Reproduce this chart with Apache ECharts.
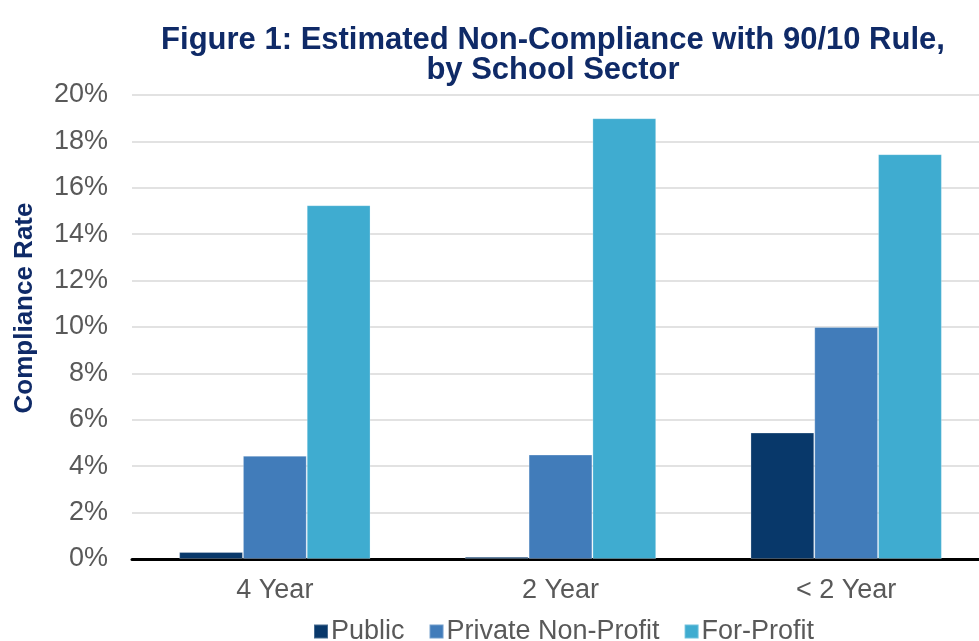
<!DOCTYPE html>
<html>
<head>
<meta charset="utf-8">
<script src="https://cdn.jsdelivr.net/npm/echarts@6/dist/echarts.min.js"></script>
<style>
  html, body { margin: 0; padding: 0; background: #fff; }
  #chart { width: 979px; height: 641px; }
</style>
</head>
<body>
<div id="chart"></div>
<script>
// sectors on the x axis
const categories = ['4 Year', '2 Year', '< 2 Year'];
// estimated non-compliance, percent
const publicVals = [0.3, 0.1, 5.45];
const privateVals = [4.45, 4.5, 10.0];
const forProfitVals = [15.25, 19.0, 17.45];
const yTicks = [0, 2, 4, 6, 8, 10, 12, 14, 16, 18, 20];

const font = 'Liberation Sans, Arial, sans-serif';
const navy = '#0f2a67';
const chart = echarts.init(document.getElementById('chart'));

function barSeries(name, data, color) {
    return {
        name: name,
        type: 'bar',
        data: data,
        barGap: '0%',
        barCategoryGap: '33%',
        itemStyle: { color: color, borderColor: 'rgba(255,255,255,0.25)', borderWidth: 1 },
        emphasis: { disabled: true }
    };
}

chart.setOption({
    animation: false,
    textStyle: { fontFamily: font },
    title: {
        text: 'Figure 1: Estimated Non-Compliance with 90/10 Rule,\nby School Sector',
        left: 548,
        top: 20,
        textAlign: 'center',
        textStyle: { fontFamily: font, fontSize: 31, fontWeight: 'bold', color: navy, lineHeight: 30 }
    },
    legend: {
        top: 613,
        left: 308,
        itemWidth: 14,
        itemHeight: 14,
        itemGap: 24,
        icon: 'rect',
        textStyle: { fontFamily: font, fontSize: 27, color: '#595959', padding: [0, 0, 0, -2] },
        data: ['Public', 'Private Non-Profit', 'For-Profit']
    },
    grid: { left: 132, right: -10, top: 95, bottom: 82, outerBoundsMode: 'none' },
    xAxis: {
        type: 'category',
        data: categories,
        axisLine: { lineStyle: { color: '#000', width: 3 } },
        axisTick: { show: false },
        axisLabel: { fontSize: 27, color: '#595959', margin: 18 }
    },
    yAxis: {
        type: 'value',
        min: yTicks[0],
        max: yTicks[yTicks.length - 1],
        interval: 2,
        axisLine: { show: false },
        axisTick: { show: false },
        axisLabel: { fontSize: 27, color: '#595959', margin: 24, formatter: '{value}%' },
        splitLine: { lineStyle: { color: '#d9d9d9', width: 1.5 } }
    },
    graphic: [{
        type: 'text',
        x: 25,
        y: 308,
        rotation: Math.PI / 2,
        style: {
            text: 'Compliance Rate',
            font: 'bold 26px ' + font,
            fill: navy,
            align: 'center',
            verticalAlign: 'middle'
        }
    }],
    series: [
        barSeries('Public', publicVals, '#08386a'),
        barSeries('Private Non-Profit', privateVals, '#417cba'),
        barSeries('For-Profit', forProfitVals, '#3facd0')
    ]
});
</script>
</body>
</html>
